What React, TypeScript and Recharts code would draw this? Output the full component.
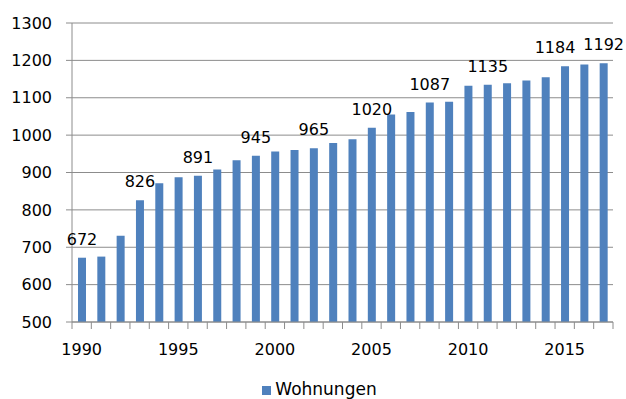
import React from "react";
import { BarChart, Bar, XAxis, YAxis, CartesianGrid, Legend, LabelList } from "recharts";

// Wohnungen pro Jahr, 1990–2017
const years = [
  1990, 1991, 1992, 1993, 1994, 1995, 1996, 1997, 1998, 1999,
  2000, 2001, 2002, 2003, 2004, 2005, 2006, 2007, 2008, 2009,
  2010, 2011, 2012, 2013, 2014, 2015, 2016, 2017,
];
const wohnungen = [
  672, 675, 731, 826, 871, 887, 891, 908, 933, 945,
  956, 960, 965, 979, 989, 1020, 1055, 1062, 1087, 1089,
  1132, 1135, 1139, 1146, 1155, 1184, 1189, 1192,
];
const labelledYears = [1990, 1993, 1996, 1999, 2002, 2005, 2008, 2011, 2015, 2017];
const xLabelYears = [1990, 1995, 2000, 2005, 2010, 2015];
const yTicks = [500, 600, 700, 800, 900, 1000, 1100, 1200, 1300];

const data = years.map((year, i) => ({ year, Wohnungen: wohnungen[i] }));

const FONT = "'DejaVu Sans', Verdana, sans-serif";
const GRID = "#8c8c8c";
const BLUE = "#4f81bd";

// category ticks sit between bars; only every fifth year gets a label
const YearTick = (props: any) => {
  const { x, y, payload, index, visibleTicksCount } = props;
  const half = payload && payload.offset ? payload.offset : 9.66;
  const isLast = index === visibleTicksCount - 1;
  return (
    <g>
      <line x1={x - half} y1={y} x2={x - half} y2={y + 7} stroke={GRID} />
      {isLast && <line x1={x + half} y1={y} x2={x + half} y2={y + 7} stroke={GRID} />}
      {xLabelYears.includes(payload.value) && (
        <text x={x} y={y + 33} textAnchor="middle" fill="#000" fontSize={16} fontFamily={FONT}>
          {payload.value}
        </text>
      )}
    </g>
  );
};

const ValueLabel = (props: any) => {
  const { x, y, width, value, index } = props;
  const year = data[index]?.year;
  if (!labelledYears.includes(year)) return null;
  const dx = year === 2015 ? -10 : 0;
  return (
    <text
      x={x + width / 2 + dx}
      y={y - 13}
      textAnchor="middle"
      fill="#000"
      fontSize={16}
      fontFamily={FONT}
    >
      {value}
    </text>
  );
};

const App = () => {
  return (
    <div style={{ position: "absolute", left: 0, top: 0, fontFamily: FONT }}>
      <BarChart
        width={626}
        height={399}
        data={data}
        margin={{ top: 23, right: 13, left: 0, bottom: 0 }}
        style={{ fontFamily: FONT }}
      >
        <CartesianGrid vertical={false} stroke={GRID} strokeWidth={1} />
        <XAxis
          dataKey="year"
          interval={0}
          height={59}
          tickLine={false}
          tickSize={0}
          tickMargin={0}
          axisLine={{ stroke: GRID }}
          tick={<YearTick />}
        />
        <YAxis
          width={72}
          domain={[500, 1300]}
          ticks={yTicks}
          allowDataOverflow
          tickSize={6}
          tickMargin={14}
          tickLine={{ stroke: GRID }}
          axisLine={{ stroke: GRID }}
          tick={{ fill: "#000", fontSize: 16, fontFamily: FONT }}
        />
        <Legend
          verticalAlign="bottom"
          iconType="square"
          iconSize={9}
          wrapperStyle={{ fontSize: 17, fontFamily: FONT, bottom: 1, left: 18, lineHeight: "18px" }}
          formatter={(v: any) => <span style={{ color: "#000" }}>{v}</span>}
        />
        <Bar dataKey="Wohnungen" fill={BLUE} barSize={8} isAnimationActive={false}>
          <LabelList dataKey="Wohnungen" content={<ValueLabel />} />
        </Bar>
      </BarChart>
    </div>
  );
};

export default App;
